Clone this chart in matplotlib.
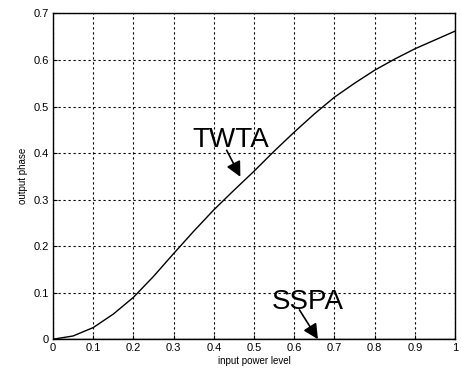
import numpy as np
import matplotlib.pyplot as plt

# input power level vs. output phase (rad) for the two amplifier models
power = [0.0, 0.05, 0.1, 0.15, 0.2, 0.25, 0.3, 0.35, 0.4, 0.45, 0.5,
         0.55, 0.6, 0.65, 0.7, 0.75, 0.8, 0.85, 0.9, 0.95, 1.0]
twta_phase = [0.0, 0.007, 0.025, 0.054, 0.09, 0.135, 0.184, 0.232, 0.278, 0.32, 0.361,
              0.404, 0.445, 0.484, 0.52, 0.55, 0.578, 0.602, 0.624, 0.643, 0.662]
sspa_phase = [0.0] * len(power)

xticks = [0, 0.1, 0.2, 0.3, 0.4, 0.5, 0.6, 0.7, 0.8, 0.9, 1]
xticklabels = ["0", "0.1", "0.2", "0.3", "0.4", "0.5", "0.6", "0.7", "0.8", "0.9", "1"]
yticks = [0, 0.1, 0.2, 0.3, 0.4, 0.5, 0.6, 0.7]
yticklabels = ["0", "0.1", "0.2", "0.3", "0.4", "0.5", "0.6", "0.7"]

plt.rcParams['font.family'] = ['Liberation Sans', 'DejaVu Sans']

fig = plt.figure(figsize=(4.61, 3.74), dpi=100)
ax = fig.add_axes([0.115, 0.093, 0.872, 0.871])

ax.plot(power, twta_phase, color='black', linewidth=1.0)
ax.plot(power, sspa_phase, color='black', linewidth=1.0)

ax.set_xlim(0, 1)
ax.set_ylim(0, 0.7)
ax.set_xticks(xticks)
ax.set_xticklabels(xticklabels)
ax.set_yticks(yticks)
ax.set_yticklabels(yticklabels)
ax.tick_params(direction='in', length=3, labelsize=8, colors='black', pad=3)
ax.grid(True, color='black', linestyle=(0, (2, 2.5)), linewidth=0.8)
for s in ax.spines.values():
    s.set_linewidth(1.0)

ax.set_xlabel('input power level', fontsize=7, labelpad=2)
ax.set_ylabel('output phase', fontsize=7, labelpad=4)

# labels, with separate arrows pointing at each curve
arrow = dict(arrowstyle='-|>,head_length=0.9,head_width=0.45', color='black', lw=1.2,
             shrinkA=0, shrinkB=0)
ax.text(0.443, 0.428, 'TWTA', fontsize=20, ha='center', va='center')
ax.annotate('', xy=(0.466, 0.349), xytext=(0.432, 0.406), arrowprops=arrow)
ax.text(0.634, 0.079, 'SSPA', fontsize=20, ha='center', va='center')
ax.annotate('', xy=(0.659, 0.0), xytext=(0.613, 0.063), arrowprops=arrow)

fig.savefig('out.png', dpi=100)
